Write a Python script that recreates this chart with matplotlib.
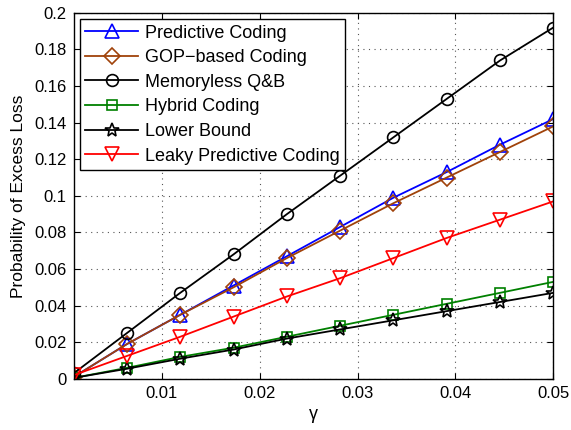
import matplotlib.pyplot as plt

plt.rcParams['font.family'] = ['Liberation Sans', 'DejaVu Sans']

# gamma values (10 points from 0.001 to 0.05)
gamma = [0.001, 0.00644, 0.01189, 0.01733, 0.02278, 0.02822, 0.03367, 0.03911, 0.04456, 0.05]

predictive = [0.001, 0.019, 0.035, 0.051, 0.067, 0.083, 0.099, 0.113, 0.128, 0.142]
gop = [0.001, 0.019, 0.035, 0.050, 0.066, 0.081, 0.096, 0.110, 0.124, 0.138]
memoryless = [0.003, 0.025, 0.047, 0.068, 0.090, 0.111, 0.132, 0.153, 0.174, 0.192]
hybrid = [0.0005, 0.006, 0.012, 0.017, 0.023, 0.029, 0.035, 0.041, 0.047, 0.053]
lower = [0.0005, 0.0055, 0.011, 0.016, 0.022, 0.027, 0.032, 0.037, 0.042, 0.047]
leaky = [0.002, 0.0125, 0.023, 0.034, 0.045, 0.055, 0.066, 0.077, 0.087, 0.097]

fig = plt.figure(figsize=(5.71, 4.30), dpi=100)
ax = fig.add_axes([0.129, 0.119, 0.840, 0.851])

ax.plot(gamma, predictive, color='#0000ff', marker='^', ms=10, mfc='none', mew=1.2, lw=1.3, label='Predictive Coding')
ax.plot(gamma, gop, color='#a0420a', marker='D', ms=8.5, mfc='none', mew=1.2, lw=1.3, label='GOP\u2212based Coding')
ax.plot(gamma, memoryless, color='black', marker='o', ms=8.5, mfc='none', mew=1.2, lw=1.3, label='Memoryless Q&B')
ax.plot(gamma, hybrid, color='#008000', marker='s', ms=7.5, mfc='none', mew=1.2, lw=1.3, label='Hybrid Coding')
ax.plot(gamma, lower, color='black', marker='*', ms=10, mfc='none', mew=1.2, lw=1.3, label='Lower Bound')
ax.plot(gamma, leaky, color='#ff0000', marker='v', ms=10, mfc='none', mew=1.2, lw=1.3, label='Leaky Predictive Coding')

ax.set_xlim(0.001, 0.05)
ax.set_ylim(0, 0.2)
ax.set_xticks([0.01, 0.02, 0.03, 0.04, 0.05])
ax.set_xticklabels(['0.01', '0.02', '0.03', '0.04', '0.05'])
ax.set_yticks([0, 0.02, 0.04, 0.06, 0.08, 0.1, 0.12, 0.14, 0.16, 0.18, 0.2])
ax.set_yticklabels(['0', '0.02', '0.04', '0.06', '0.08', '0.1', '0.12', '0.14', '0.16', '0.18', '0.2'])
ax.tick_params(direction='in', labelsize=12, top=True, right=True, length=4, pad=5)
ax.grid(True, linestyle=(0, (1, 4)), color='#555555', lw=0.8)
for s in ax.spines.values():
    s.set_linewidth(1.0)

ax.set_xlabel('\u03b3', fontsize=13, labelpad=4)
ax.set_ylabel('Probability of Excess Loss', fontsize=12.5, labelpad=6)

leg = ax.legend(loc='upper left', fontsize=13, fancybox=False, framealpha=1,
                edgecolor='black', handlelength=2.9, borderaxespad=0.35,
                labelspacing=0.42, handletextpad=0.4, borderpad=0.3)
leg.get_frame().set_linewidth(1.0)

fig.savefig('out.png', dpi=100)
